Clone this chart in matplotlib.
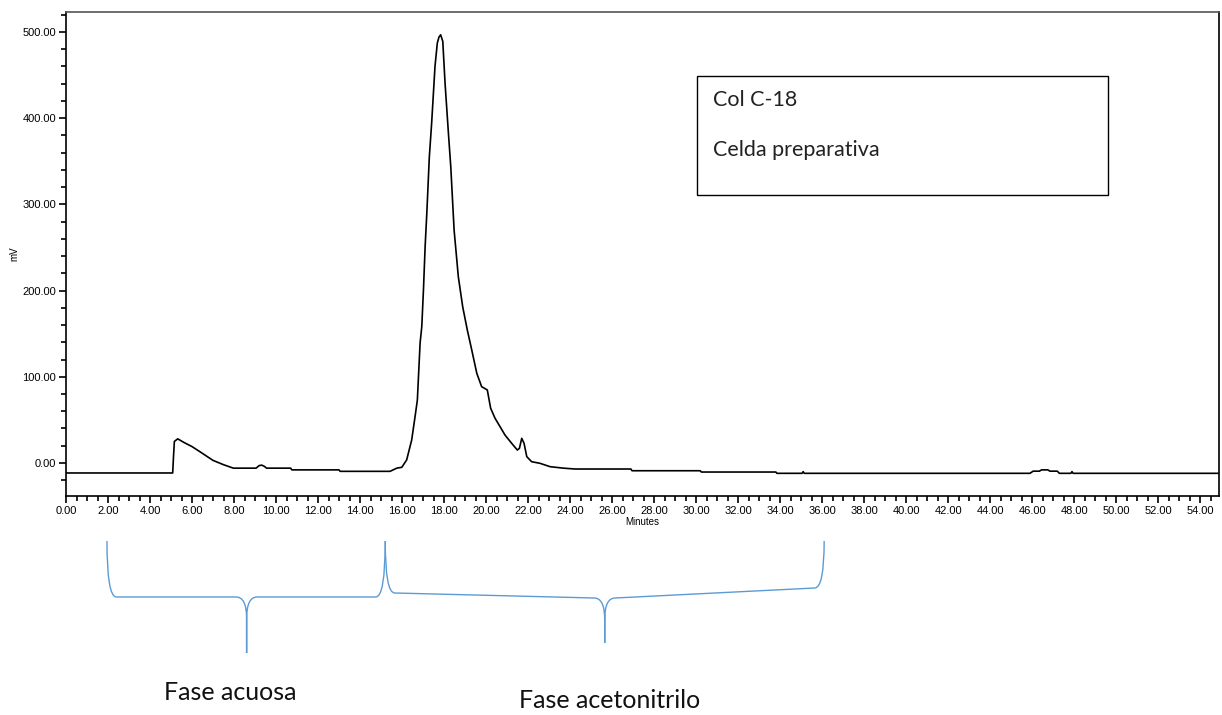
import matplotlib
matplotlib.use("Agg")
import matplotlib.pyplot as plt
import matplotlib.transforms as mtransforms
from matplotlib.path import Path
from matplotlib.patches import PathPatch, Rectangle
from matplotlib.ticker import MultipleLocator, FormatStrFormatter

# cromatograma (tiempo en minutos, señal en mV)
tiempo = [0.0, 5.08, 5.12, 5.16, 5.32, 5.6, 6.0, 6.38, 7.0, 7.5, 7.97, 9.05, 9.2, 9.32,
          9.45, 9.55, 10.70, 10.75, 13.0, 13.05, 15.43, 15.75, 15.99, 16.22, 16.46, 16.62,
          16.73, 16.86, 16.94, 17.02, 17.10, 17.18, 17.30, 17.41, 17.57, 17.68, 17.76,
          17.84, 17.94, 18.05, 18.21, 18.32, 18.48, 18.68, 18.89, 19.11, 19.32, 19.56,
          19.79, 20.06, 20.22, 20.43, 20.67, 20.90, 21.22, 21.49, 21.59, 21.70, 21.81,
          21.94, 22.17, 22.57, 23.05, 23.68, 24.24, 26.9, 26.95, 30.2, 30.25, 33.8, 33.85,
          35.05, 35.1, 35.15, 45.9, 46.05, 46.35, 46.45, 46.75, 46.85, 47.2, 47.3, 47.85,
          47.9, 47.95, 55.0]
senal = [-11.6, -11.6, 8, 25, 28, 24, 19, 13, 3, -2, -6, -6, -3, -2.5,
         -4, -6, -6, -8, -8, -9.7, -9.7, -6, -5, 3.5, 26.7, 53.7,
         73, 139, 158, 200.7, 251, 289.6, 355, 394, 460, 487, 494,
         496.5, 489, 440, 382, 344, 270, 216, 181, 154, 131, 104,
         88.5, 84.7, 63.4, 51.8, 42, 32.5, 22.8, 15, 17, 28.6, 22.8,
         7.3, 1.5, -0.4, -4.3, -6, -7, -7, -9, -9, -10.5, -10.5, -12,
         -12, -10, -12, -12, -9.5, -9.5, -8, -8, -9.5, -9.5, -12, -12,
         -10, -12, -12]

# fases (inicio, fin, punta de la llave) en minutos
fases = ["Fase acuosa", "Fase acetonitrilo"]
fase_inicio = [1.95, 15.2]
fase_fin = [15.2, 36.1]
fase_punta = [8.6, 25.65]
fase_texto_x = [7.81, 25.9]

info = ["Col C-18", "Celda preparativa"]

W, H = 1222, 715
fig = plt.figure(figsize=(W / 100, H / 100), dpi=100)
ax = fig.add_axes([66 / W, 1 - 496 / H, (1219 - 66) / W, (496 - 12) / H])

ax.plot(tiempo, senal, color="black", lw=1.2)
ax.set_xlim(0, 54.9)
ax.set_ylim(-38.3, 523)

ax.xaxis.set_major_locator(MultipleLocator(2))
ax.xaxis.set_minor_locator(MultipleLocator(0.5))
ax.yaxis.set_major_locator(MultipleLocator(100))
ax.yaxis.set_minor_locator(MultipleLocator(20))
ax.xaxis.set_major_formatter(FormatStrFormatter("%.2f"))
ax.yaxis.set_major_formatter(FormatStrFormatter("%.2f"))
ax.tick_params(which="major", length=5, width=1.2, labelsize=8, pad=2)
ax.tick_params(which="minor", length=3.5, width=1.2)
for lab in ax.get_xticklabels() + ax.get_yticklabels():
    lab.set_family(["Liberation Sans", "DejaVu Sans"])
for s in ax.spines.values():
    s.set_linewidth(1.2)
ax.spines["top"].set_color("#555555")

ax.set_xlabel("Minutes", fontsize=7, family=["Liberation Sans"], labelpad=1)
ax.set_ylabel("mV", fontsize=7, family=["Liberation Sans"], labelpad=2)

# recuadro con la información
fig.add_artist(Rectangle((697 / W, 1 - 195 / H), (1108 - 697) / W, (195 - 76) / H,
                         transform=fig.transFigure, fill=False, lw=1.0, ec="black"))
fig.text(713 / W, 1 - 100 / H, info[0], fontsize=15.5, family="Lato", va="center",
         color="#222222")
fig.text(713 / W, 1 - 150 / H, info[1], fontsize=15.5, family="Lato", va="center",
         color="#222222")

# llaves bajo el eje x
trans = mtransforms.blended_transform_factory(ax.transData, fig.transFigure)
azul = "#5B9BD5"
y_top = 1 - 541 / H
medios = [(1 - 597 / H, 1 - 597 / H, 1 - 597 / H), (1 - 593 / H, 1 - 598 / H, 1 - 588 / H)]
puntas = [1 - 653 / H, 1 - 643 / H]
texto_y = [1 - 692 / H, 1 - 700 / H]
for i in range(2):
    x0, x1, xm = fase_inicio[i], fase_fin[i], fase_punta[i]
    yl, yc, yr = medios[i]
    d = 0.45
    dm = 0.5
    h = 0.03
    verts = [(x0, y_top), (x0, yl), (x0 + d, yl),
             (xm - dm, yc), (xm, yc), (xm, yc - h),
             (xm, puntas[i]), (xm, yc - h), (xm, yc), (xm + dm, yc),
             (x1 - d, yr), (x1, yr), (x1, y_top)]
    codes = [Path.MOVETO, Path.CURVE3, Path.CURVE3,
             Path.LINETO, Path.CURVE3, Path.CURVE3,
             Path.LINETO, Path.LINETO, Path.CURVE3, Path.CURVE3,
             Path.LINETO, Path.CURVE3, Path.CURVE3]
    fig.add_artist(PathPatch(Path(verts, codes), transform=trans, fill=False,
                             ec=azul, lw=1.0))
    fig.text(fase_texto_x[i], texto_y[i], fases[i], transform=trans, fontsize=18,
             family="Lato", ha="center", va="center", color="#111111")

fig.savefig("out.png", dpi=100)
